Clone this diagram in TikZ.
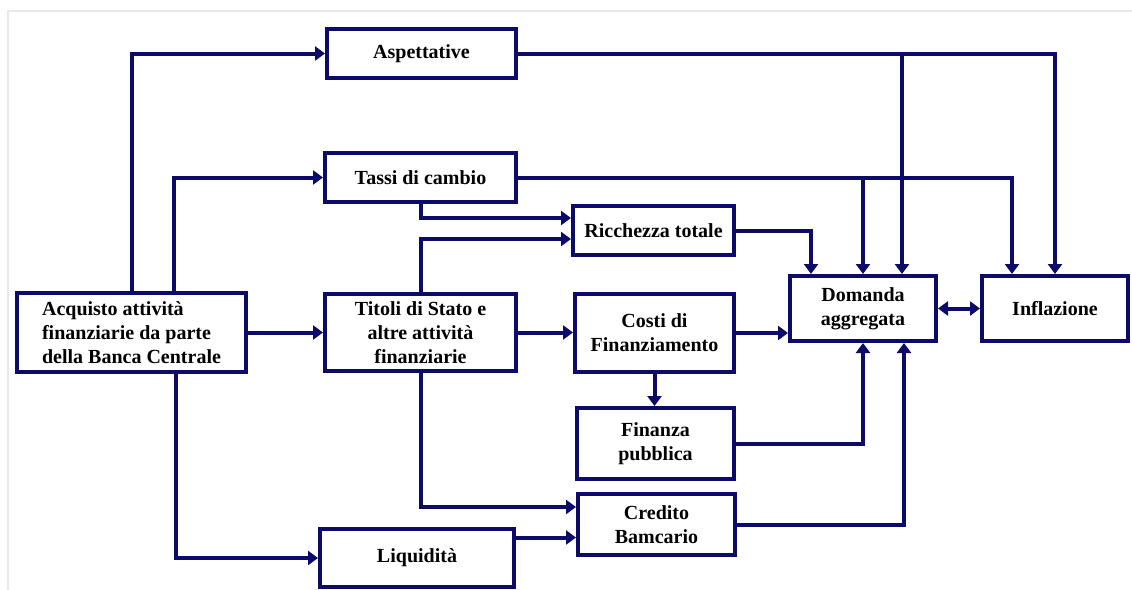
\documentclass[tikz,border=0pt]{standalone}
\usepackage{fontspec}
\setmainfont{Liberation Serif}
\usetikzlibrary{arrows.meta}
\definecolor{navy}{RGB}{12,12,104}
\definecolor{framegray}{RGB}{232,232,232}

\begin{document}
\begin{tikzpicture}[x=0.5pt, y=-0.5pt,
        box/.style={draw=navy, line width=2pt, fill=white, font=\bfseries, align=center, inner sep=0pt},
        link/.style={draw=navy, line width=2pt, -{Triangle[length=5pt,width=7pt]}}]
        \useasboundingbox (0,0) rectangle (1132,590);
        \draw[framegray, line width=0.6pt] (8,590) |- (1132,11);

        % left column
        \node[box, align=left, minimum width=114.5pt, minimum height=39.5pt] (acq) at (131.5,332.5)
            {Acquisto attività\\finanziarie da parte\\della Banca Centrale};

        % second column
        \node[box, minimum width=94.5pt, minimum height=24.5pt] (asp) at (421.5,53.5) {Aspettative};
        \node[box, minimum width=95.5pt, minimum height=24.5pt] (tas) at (420.5,177.5) {Tassi di cambio};
        \node[box, minimum width=95.5pt, minimum height=38.5pt] (tit) at (420.5,332.5)
            {Titoli di Stato e\\altre attività\\finanziarie};
        \node[box, minimum width=97pt, minimum height=29pt] (liq) at (417,558) {Liquidità};

        % third column
        \node[box, minimum width=80.5pt, minimum height=24.5pt] (ric) at (653.5,230.5) {Ricchezza totale};
        \node[box, minimum width=79.5pt, minimum height=39pt] (cos) at (654.5,333) {Costi di\\Finanziamento};
        \node[box, minimum width=78.5pt, minimum height=35.5pt] (fin) at (655.5,443.5) {Finanza\\pubblica};
        \node[box, minimum width=78.5pt, minimum height=30.5pt] (cre) at (656.5,524.5) {Credito\\Bamcario};

        % right
        \node[box, minimum width=73pt, minimum height=32.5pt] (dom) at (863,308.5) {Domanda\\aggregata};
        \node[box, minimum width=73pt, minimum height=32.5pt] (inf) at (1055,308.5) {Inflazione};

        % from the central bank
        \draw[link] (acq.north) |- (asp);
        \draw[link] ([xshift=21pt]acq.north) |- (tas);
        \draw[link] ([xshift=22pt]acq.south) |- (liq);
        \draw[link] (acq) -- (tit);

        % middle layer
        \draw[link] (tas.south) |- ([yshift=6.25pt]ric.west);
        \draw[link] (tit.north) |- ([yshift=-4.25pt]ric.west);
        \draw[link] (tit.east) -- (tit.east -| cos.west);
        \draw[link] (tit.south) |- ([yshift=8.75pt]cre.west);
        \draw[link] ([yshift=10.25pt]liq.east) -- ([yshift=10.25pt]liq.east -| cre.west);
        \draw[link] (cos.south) -- (cos.south |- fin.north);

        % into demand and inflation
        \draw[link] (asp.east) -| (inf.north);
        \draw[link] ([xshift=19.5pt]dom.north |- asp.east) -- ([xshift=19.5pt]dom.north);
        \draw[link] (tas.east) -| ([xshift=-21.5pt]inf.north);
        \draw[link] (dom.north |- tas.east) -- (dom.north);
        \draw[link] (ric.east) -| ([xshift=-26pt]dom.north);
        \draw[link] (cos.east) -- (cos.east -| dom.west);
        \draw[link] (fin.east) -| (dom.south);
        \draw[link] (cre.east) -| ([xshift=20.5pt]dom.south);
        \draw[link, {Triangle[length=5pt,width=7pt]}-{Triangle[length=5pt,width=7pt]}] (dom) -- (inf);
    \end{tikzpicture}
\end{document}
